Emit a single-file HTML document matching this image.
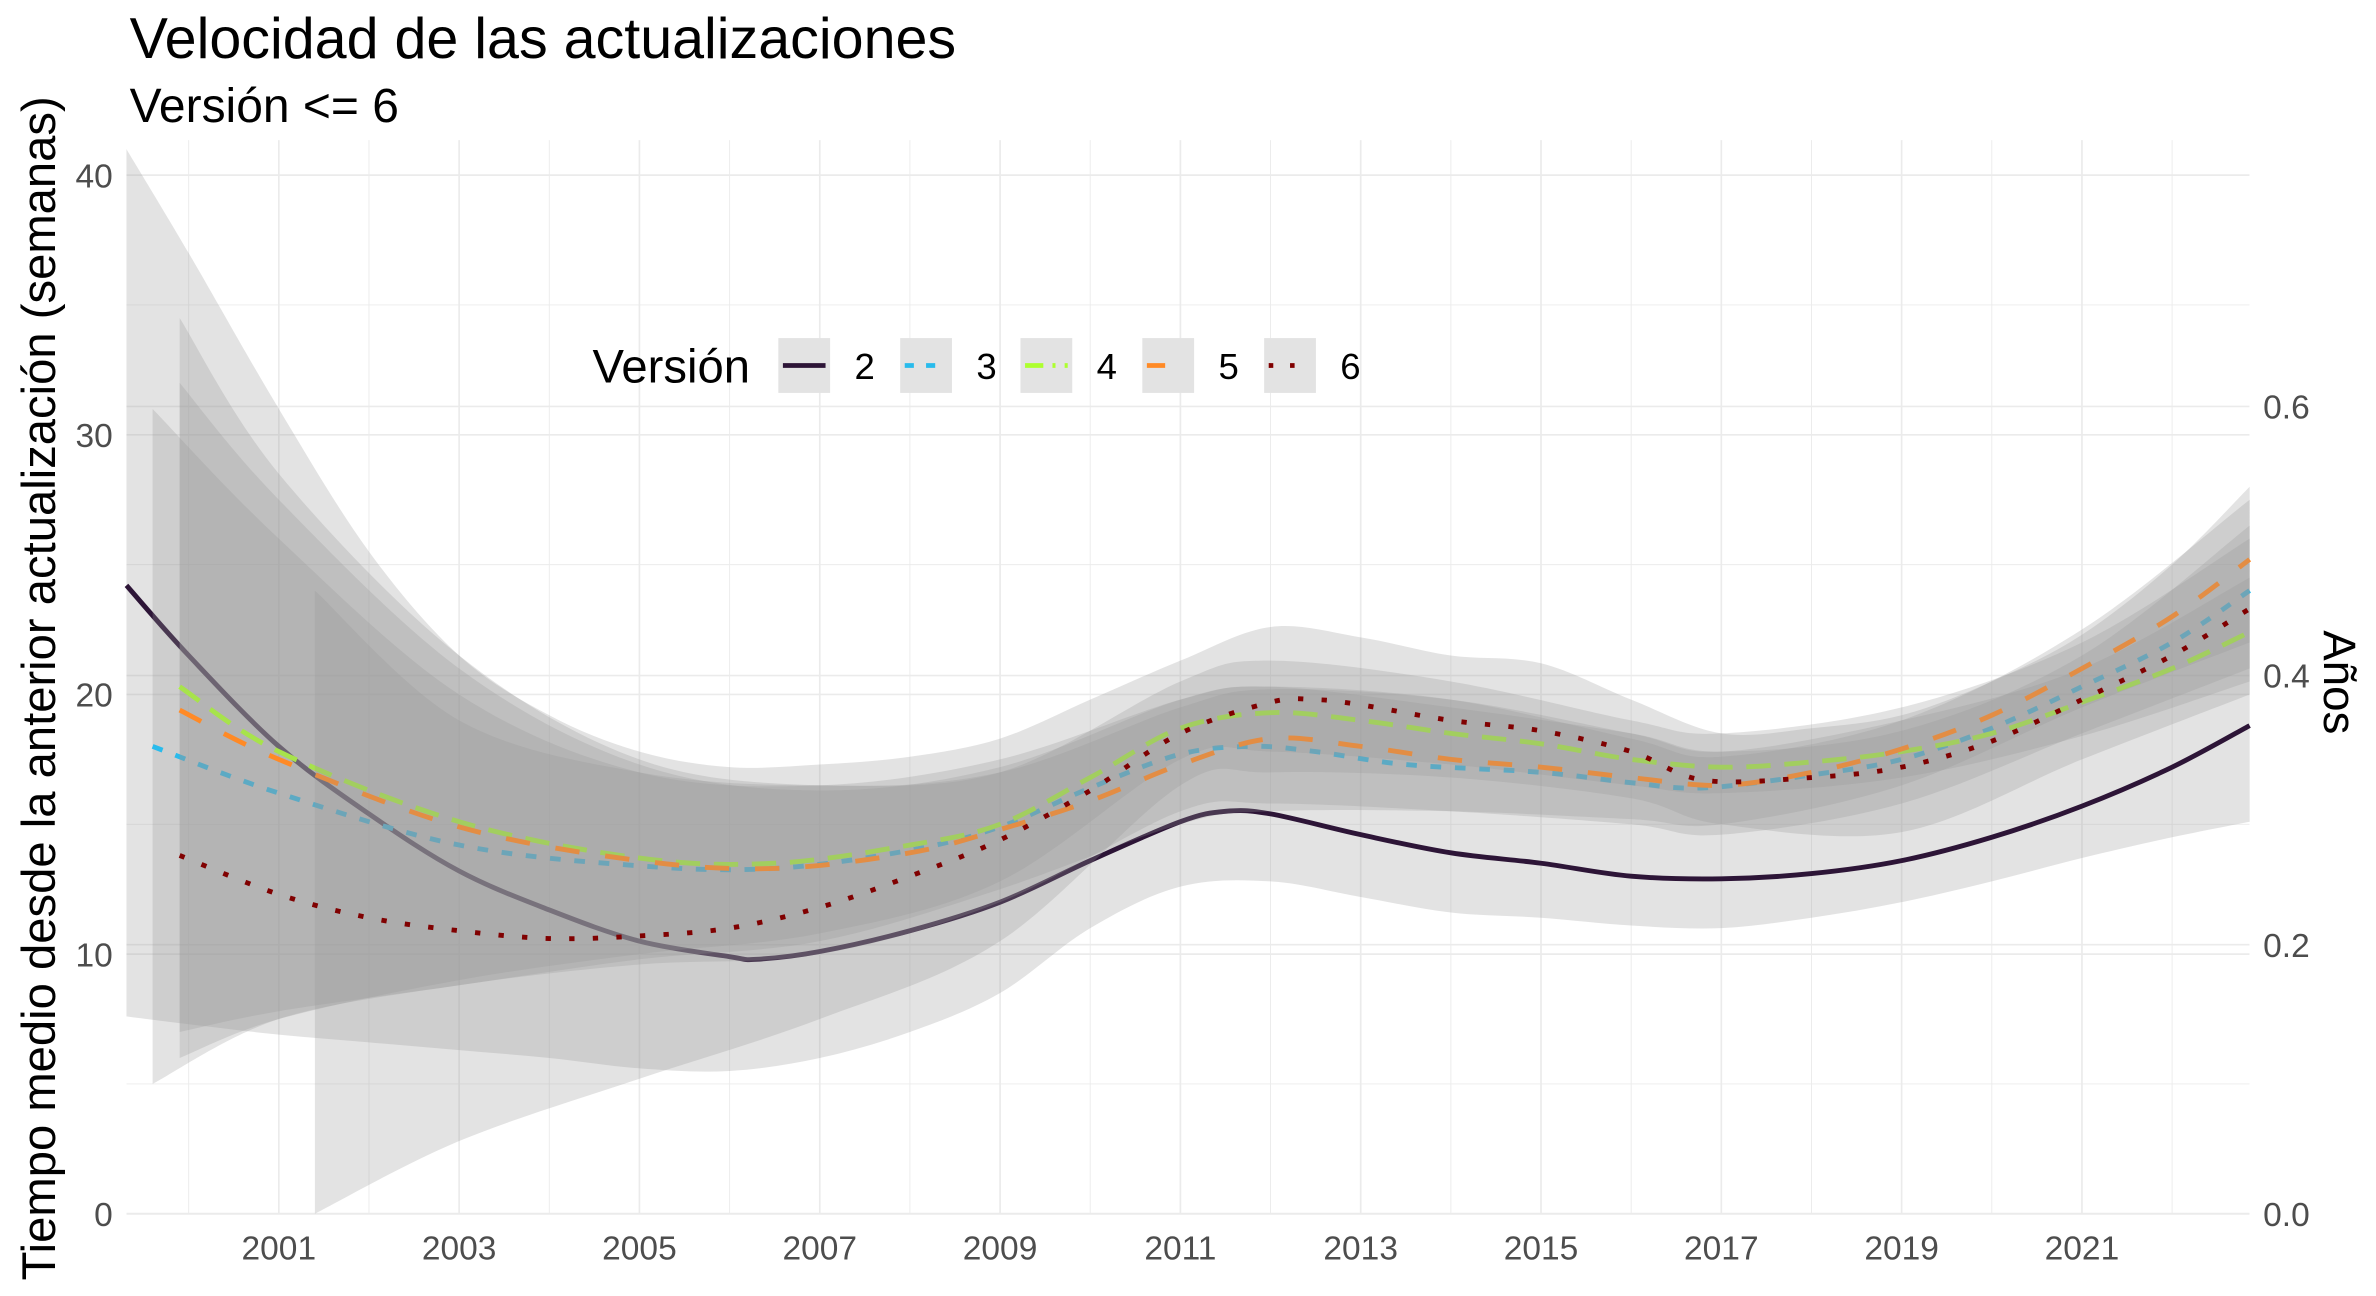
<!DOCTYPE html>
<html><head><meta charset="utf-8"><style>
html,body{margin:0;padding:0;background:#fff;}
svg{display:block;font-family:"Liberation Sans",sans-serif;}
</style></head><body>
<svg id="chart" width="2376" height="1296" viewBox="0 0 1560 851" xmlns="http://www.w3.org/2000/svg">
<rect x="0" y="0" width="1560" height="851" fill="#fff"/>
<g id="grid"></g>
<g id="series"></g>
<g id="axes"></g>
<text x="85" y="38" font-size="37.7" fill="#000">Velocidad de las actualizaciones</text>
<text x="85" y="80" font-size="31.5" fill="#000">Versión &lt;= 6</text>
<text transform="translate(36,452) rotate(-90)" text-anchor="middle" font-size="31" fill="#000">Tiempo medio desde la anterior actualización (semanas)</text>
<text transform="translate(1526,448) rotate(90)" text-anchor="middle" font-size="30" fill="#000">Años</text>
<g id="legend">
<text x="389" y="251" font-size="31" fill="#000">Versión</text>
</g>
</svg>
<script>
// ---- data ----
const xTicks = [2001,2003,2005,2007,2009,2011,2013,2015,2017,2019,2021];
const yTicks = [0,10,20,30,40];
const y2Ticks = [0.0,0.2,0.4,0.6];
const seriesNames = ['2','3','4','5','6'];

const s2Years = [1999.31,2000,2001,2002,2003,2004,2005,2006,2006.3,2007,2008,2009,2010,2011,2011.5,2012,2013,2014,2015,2016,2017,2018,2019,2020,2021,2022,2022.86];
const s2Values = [24.2,21.5,18.0,15.4,13.2,11.7,10.5,9.9,9.8,10.1,10.9,12,13.6,15.1,15.5,15.4,14.6,13.9,13.5,13.0,12.9,13.1,13.6,14.5,15.7,17.2,18.8];
const b2Years = [1999.31,2000,2001,2002,2003,2004,2005,2006,2007,2008,2009,2010,2011,2012,2013,2014,2015,2016,2017,2018,2019,2020,2021,2022,2022.86];
const b2Upper = [41,37,31,25.5,21.5,19.2,17.8,17.2,17.3,17.6,18.3,19.8,21.3,22.6,22.2,21.5,21.2,19.8,18.5,18.7,19.2,20.5,22.3,25,28];
const b2Lower = [7.6,7.3,6.9,6.6,6.3,6.0,5.6,5.5,6.0,7.0,8.5,11,12.6,12.8,12.2,11.6,11.4,11.1,11.0,11.4,12,12.8,13.7,14.5,15.1];

const s3Years = [1999.6,2001,2003,2005,2006.5,2008,2009,2010,2011,2011.8,2012.5,2013.5,2015,2016,2016.8,2018,2019,2020,2021,2022,2022.86];
const s3Values = [18,16.2,14.2,13.4,13.3,14,14.9,16.4,17.7,18,17.8,17.3,17,16.6,16.4,16.9,17.5,18.7,20.3,22,24];
const b3Years = [1999.6,2001,2003,2005,2007,2009,2011,2012,2014,2016,2017,2019,2021,2022.86];
const b3Upper = [31,26,20,17,16.5,17.5,19.8,20.3,19.5,18.5,17.8,18.6,21.5,26.5];
const b3Lower = [5,7.5,8.8,9.6,10,12,15.5,15.8,15.5,15.0,14.6,15.8,18.5,21];

const s4Years = [1999.9,2001,2003,2005,2006.5,2008,2009,2010,2011,2012,2013,2014,2015,2016,2017,2018,2019,2020,2021,2022,2022.86];
const s4Values = [20.3,17.8,15.1,13.7,13.5,14.2,15,16.8,18.7,19.3,19,18.5,18.1,17.5,17.2,17.4,17.8,18.5,19.7,21,22.4];
const b4Years = [1999.9,2001,2003,2005,2007,2009,2011,2012,2014,2016,2017,2019,2021,2022.86];
const b4Upper = [34.5,28.5,21.5,17.5,16.5,17,19.5,20.2,19.8,18.5,17.8,19,21,24.5];
const b4Lower = [6,7.5,9,10,10.8,12.8,17.5,17.8,17.3,16.5,16.2,16.8,18.4,20.5];

const s5Years = [1999.9,2001,2003,2005,2006.5,2008,2009,2010,2011,2012,2013,2014,2015,2016,2017,2018,2019,2020,2021,2022,2022.86];
const s5Values = [19.4,17.5,14.9,13.6,13.3,13.9,14.8,15.9,17.3,18.3,18,17.5,17.2,16.8,16.5,17,17.9,19.2,21,23,25.2];
const b5Years = [1999.9,2001,2003,2005,2007,2009,2011,2012,2014,2016,2017,2019,2021,2022.86];
const b5Upper = [32,27.5,21,17.3,16.3,17.2,19.8,20.3,19.8,18.3,17.6,19,22.5,27.5];
const b5Lower = [7,7.8,8.8,9.8,10.5,12.5,15,15.5,15.5,15.2,15,16.5,19.5,22];

const s6Years = [1999.9,2001,2002,2003,2004,2005,2006,2007,2008,2009,2010,2011,2012,2012.5,2013,2014,2015,2016,2016.8,2018,2019,2020,2021,2022,2022.86];
const s6Values = [13.8,12.3,11.4,10.9,10.6,10.7,11,11.8,13,14.4,16.3,18.5,19.7,19.8,19.6,19,18.6,17.8,16.7,16.8,17.2,18.2,19.8,21.5,23.3];
const b6Years = [2001.4,2003,2005,2007,2009,2011,2012,2014,2016,2017,2019,2021,2022.86];
const b6Upper = [24,19,17,16.5,17,20.5,21.3,20.5,19,18.5,19.5,22,26];
const b6Lower = [0,2.8,5.2,7.5,10.5,16.5,17,16.8,16,15,14.7,17.5,20];

// ---- scales ----
const X0 = 83, X1 = 1477;
const xS = yr => 183 + (yr - 2001) * 59.2;
const yS = v => 797 - v * 17.05;
const y2S = v => 797 - v * 883.5;

const NS = 'http://www.w3.org/2000/svg';
function mk(tag, attrs, parent){
  const e = document.createElementNS(NS, tag);
  for (const k in attrs) e.setAttribute(k, attrs[k]);
  parent.appendChild(e);
  return e;
}
function smoothPath(pts){
  let d = 'M' + pts[0][0].toFixed(2) + ',' + pts[0][1].toFixed(2);
  for (let i = 0; i < pts.length - 1; i++){
    const p0 = pts[Math.max(0,i-1)], p1 = pts[i], p2 = pts[i+1], p3 = pts[Math.min(pts.length-1,i+2)];
    const c1x = p1[0] + (p2[0]-p0[0])/6, c1y = p1[1] + (p2[1]-p0[1])/6;
    const c2x = p2[0] - (p3[0]-p1[0])/6, c2y = p2[1] - (p3[1]-p1[1])/6;
    d += ' C' + c1x.toFixed(2)+','+c1y.toFixed(2)+' '+c2x.toFixed(2)+','+c2y.toFixed(2)+' '+p2[0].toFixed(2)+','+p2[1].toFixed(2);
  }
  return d;
}
function bandPath(years, up, lo){
  const top = years.map((y,i)=>[xS(y), yS(up[i])]);
  const bot = years.map((y,i)=>[xS(y), yS(lo[i])]).reverse();
  const d1 = smoothPath(top);
  const d2 = smoothPath(bot).replace(/^M/, 'L');
  return d1 + ' ' + d2 + ' Z';
}

// ---- grid ----
const grid = document.getElementById('grid');
for (let yr = 2000; yr <= 2022; yr++){
  const l = mk('line', {x1:xS(yr), x2:xS(yr), y1:92, y2:797, stroke:'#ebebeb', 'stroke-width': yr % 2 ? 1.1 : 0.6}, grid);
  
  
}
for (let v = 5; v <= 35; v += 10){
  const l = mk('line', {x1:X0, x2:X1, y1:yS(v), y2:yS(v), stroke:'#ebebeb', 'stroke-width':0.6}, grid);
  
  
}
yTicks.forEach(v=>{
  const l = mk('line', {x1:X0, x2:X1, y1:yS(v), y2:yS(v), stroke:'#ebebeb', 'stroke-width':1.1}, grid);
  
  
});
y2Ticks.forEach(v=>{
  const l = mk('line', {x1:X0, x2:X1, y1:y2S(v), y2:y2S(v), stroke:'#ebebeb', 'stroke-width':1.1}, grid);
  
  
});

// ---- series ----
const sg = document.getElementById('series');
const cfg = [
  {name:'2', years:s2Years, vals:s2Values, by:b2Years, bu:b2Upper, bl:b2Lower, color:'#2d1537', dash:''},
  {name:'3', years:s3Years, vals:s3Values, by:b3Years, bu:b3Upper, bl:b3Lower, color:'#29bbec', dash:'7 9'},
  {name:'4', years:s4Years, vals:s4Values, by:b4Years, bu:b4Upper, bl:b4Lower, color:'#adff2f', dash:'16 9'},
  {name:'5', years:s5Years, vals:s5Values, by:b5Years, bu:b5Upper, bl:b5Lower, color:'#ff8a26', dash:'16 17'},
  {name:'6', years:s6Years, vals:s6Values, by:b6Years, bu:b6Upper, bl:b6Lower, color:'#800000', dash:'3.5 12'}
];
cfg.forEach(c=>{
  const b = mk('path', {d:bandPath(c.by, c.bu, c.bl), fill:'#999999', 'fill-opacity':0.27, stroke:'none'}, sg);
  
  
  const pts = c.years.map((y,i)=>[xS(y), yS(c.vals[i])]);
  const attrs = {d:smoothPath(pts), fill:'none', stroke:c.color, 'stroke-width':3.2};
  if (c.dash) attrs['stroke-dasharray'] = c.dash;
  const p = mk('path', attrs, sg);
  
  
});

// ---- axes labels ----
const ax = document.getElementById('axes');
xTicks.forEach(yr=>{
  const t = mk('text', {x:xS(yr), y:827, 'text-anchor':'middle', 'font-size':22, fill:'#4d4d4d'}, ax);
  t.textContent = yr;
  
  
});
yTicks.forEach(v=>{
  const t = mk('text', {x:74, y:yS(v)+8, 'text-anchor':'end', 'font-size':22, fill:'#4d4d4d'}, ax);
  t.textContent = v;
  
  
});
y2Ticks.forEach(v=>{
  const t = mk('text', {x:1486, y:y2S(v)+8, 'text-anchor':'start', 'font-size':22, fill:'#4d4d4d'}, ax);
  t.textContent = v.toFixed(1);
  
  
});

// ---- legend ----
const lg = document.getElementById('legend');
const keyX = [511, 591, 670, 750, 830];
cfg.forEach((c,i)=>{
  const g = mk('g', {}, lg);
  
  
  mk('rect', {x:keyX[i], y:222, width:34, height:36, fill:'#e3e3e3'}, g);
  const la = {x1:keyX[i]+3, x2:keyX[i]+31, y1:240, y2:240, stroke:c.color, 'stroke-width':3.2};
  if (c.dash) la['stroke-dasharray'] = c.dash === '3.5 12' ? '3 11' : (c.dash === '16 9' ? '12 6 2 6' : (c.dash === '16 17' ? '12 16' : '6 8'));
  mk('line', la, g);
  const t = mk('text', {x:keyX[i]+50, y:249, 'font-size':24, fill:'#000'}, g);
  t.textContent = c.name;
});
</script>
</body></html>
